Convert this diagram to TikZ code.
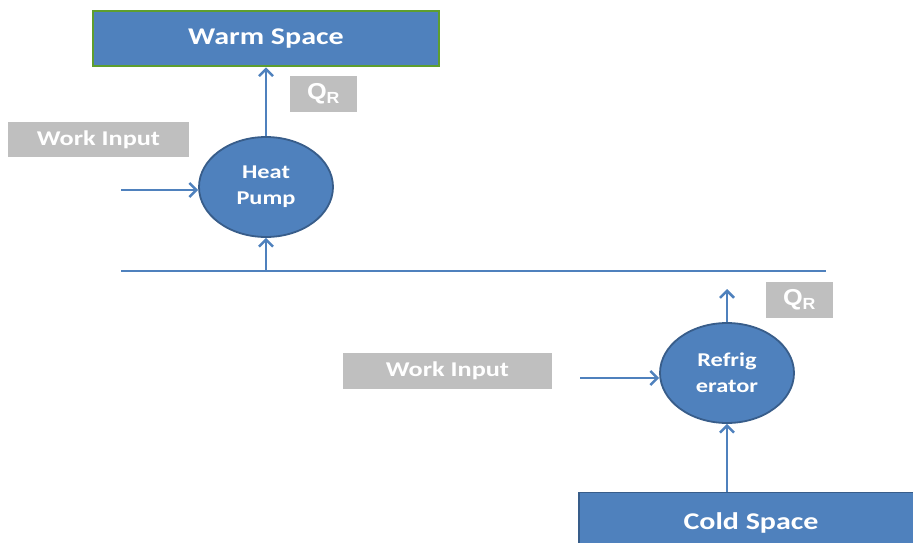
\documentclass[tikz,border=0pt]{standalone}
\usepackage{fontspec}
\setmainfont{Carlito}[FakeStretch=1.25]
\newfontfamily\qfont{Liberation Sans}[FakeStretch=1.1]
\usepackage{tikz}
\usetikzlibrary{shapes.geometric,arrows.meta,positioning}
\definecolor{boxblue}{HTML}{4F81BD}
\definecolor{edgeblue}{HTML}{385D8A}
\definecolor{edgegreen}{HTML}{5E9E2E}
\definecolor{lblgray}{HTML}{BFBFBF}

\begin{document}
\begin{tikzpicture}[
  x=1pt, y=-1pt,
  every node/.style={font=\bfseries, text=white, inner sep=0pt},
  space/.style={rectangle, fill=boxblue, minimum width=346pt, minimum height=55pt, font=\fontsize{24}{26}\bfseries},
  engine/.style={ellipse, draw=edgeblue, line width=1.8pt, fill=boxblue, minimum width=134pt, minimum height=100pt, align=center, font=\fontsize{19.5}{26}\bfseries},
  lbl/.style={rectangle, fill=lblgray, minimum height=35pt, font=\fontsize{21}{24}\bfseries},
  qlbl/.style={lbl, minimum width=67pt, minimum height=36pt, font=\fontsize{23}{24}\bfseries\qfont},
  arr/.style={-{Straight Barb[length=7pt, width=14pt, line width=2.5pt]}, line width=2.5pt, draw=boxblue},
]
\useasboundingbox (0,0) rectangle (913,542);

\node[space, draw=edgegreen, line width=2.5pt] (warm) at (266, 38.5) {Warm Space};
\node[qlbl] (qr1) at (323.5, 94) {Q\textsubscript{R}};
\node[lbl, minimum width=181pt] (work1) at (98.5, 139.5) {Work Input};
\node[engine] (hp) at (266, 187) {Heat\\Pump};

\coordinate (wi1) at (121, 190);
\coordinate (lineL) at (121, 271);
\coordinate (lineR) at (826, 271);
\coordinate (hpin) at (266, 271);

\node[qlbl] (qr2) at (799.5, 300) {Q\textsubscript{R}};
\node[lbl, minimum width=209pt, minimum height=36pt] (work2) at (447.5, 371) {Work Input};
\node[engine] (ref) at (727, 373) {Refrig\\erator};
\coordinate (wi2) at (580, 378);
\coordinate (rfout) at (727, 289);

\node[space, draw=edgeblue, line width=1.8pt, minimum width=344pt, minimum height=60pt] (cold) at (751, 522.5) {Cold Space};

\draw[arr] (wi1) -- (wi1 -| hp.west);
\draw[arr] (hp.north) -- (hp.north |- warm.south);
\draw[line width=2.5pt, draw=boxblue] (lineL) -- (lineR);
\draw[arr] (hpin) -- (hp.south);
\draw[arr] (wi2) -- (wi2 -| ref.west);
\draw[arr] (ref.north) -- (rfout);
\draw[arr] (cold.north -| ref.south) -- (ref.south);

\end{tikzpicture}
\end{document}
